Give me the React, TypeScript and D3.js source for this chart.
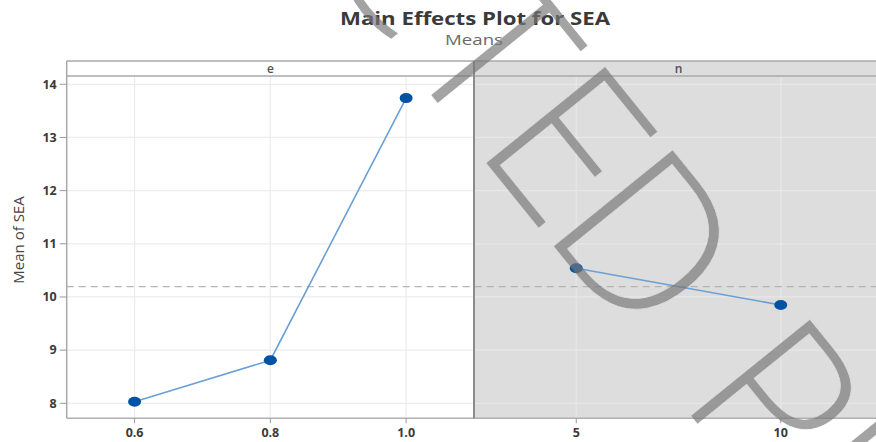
import React from "react";
import * as d3 from "d3";

const eLevels = ["0.6", "0.8", "1.0"];
const eMeans = [8.03, 8.81, 13.74];
const nLevels = ["5", "10"];
const nMeans = [10.54, 9.85];
const yTicks = [8, 9, 10, 11, 12, 13, 14];
const panelNames = ["e", "n"];
const title = "Main Effects Plot for SEA";
const subtitle = "Means";
const yLabel = "Mean of SEA";
const watermark = "UNCORRECTED PROOF";

const W = 876;
const H = 442;
const L = 66.7;
const MID = 474;
const R = 883;
const TOP = 61;
const STRIP_B = 76;
const BOT = 418.3;

export default function App() {
  const y = d3.scaleLinear().domain([7.718, 14.156]).range([BOT, STRIP_B]);
  const xe = d3.scalePoint<string>().domain(eLevels).range([L, MID]).padding(0.5);
  const xn = d3.scalePoint<string>().domain(nLevels).range([MID, R]).padding(0.5);
  const overall = (d3.sum(eMeans) / eMeans.length + d3.sum(nMeans) / nMeans.length) / 2;
  const line = d3.line<[number, number]>().x((d) => d[0]).y((d) => d[1]);
  const ePts: [number, number][] = eLevels.map((l, i) => [xe(l)!, y(eMeans[i])]);
  const nPts: [number, number][] = nLevels.map((l, i) => [xn(l)!, y(nMeans[i])]);
  const font = "'Open Sans', 'Noto Sans', 'DejaVu Sans', sans-serif";
  const wmX = [-790, -650, -510, -370, -216, -86, 44, 154, 294, 411, 518, 675, 736, 857, 987, 1152, 1317].join(" ");
  const wmFont = "'Open Sans', 'Liberation Sans', sans-serif";

  return (
    <svg width={W} height={H} style={{ position: "absolute", left: 0, top: 0 }} fontFamily={font}>
      <defs>
        <mask id="wmMask" maskUnits="userSpaceOnUse" maskContentUnits="userSpaceOnUse" x={0} y={0} width={W} height={H}>
          <rect x={0} y={0} width={W} height={H} fill="black" />
          <g transform="rotate(51)">
            <text x={wmX} y={-275} fontSize={215} fontWeight={300} fontFamily={wmFont}
              fill="white" stroke="black" strokeWidth={0.8}>{watermark}</text>
          </g>
        </mask>
      </defs>
      <rect x={0} y={0} width={W} height={H} fill="#ffffff" />
      {/* right panel background */}
      <rect x={MID} y={TOP} width={R - MID} height={BOT - TOP} fill="#dddddd" />
      {/* gridlines left */}
      {yTicks.map((t) => (
        <line key={"gl" + t} x1={L} x2={MID} y1={y(t)} y2={y(t)} stroke="#ececec" strokeWidth={1.2} />
      ))}
      {eLevels.map((l) => (
        <line key={"gv" + l} x1={xe(l)} x2={xe(l)} y1={STRIP_B} y2={BOT} stroke="#ececec" strokeWidth={1.2} />
      ))}
      {/* gridlines right */}
      {yTicks.map((t) => (
        <line key={"gr" + t} x1={MID} x2={R} y1={y(t)} y2={y(t)} stroke="#e7e7e7" strokeWidth={1.2} />
      ))}
      {nLevels.map((l) => (
        <line key={"gvn" + l} x1={xn(l)} x2={xn(l)} y1={STRIP_B} y2={BOT} stroke="#e7e7e7" strokeWidth={1.2} />
      ))}
      {/* mean reference */}
      <line x1={L} x2={W} y1={y(overall)} y2={y(overall)} stroke="#b4b4b4" strokeWidth={1.3} strokeDasharray="7,5" />
      {/* frame */}
      <line x1={L} x2={W} y1={TOP} y2={TOP} stroke="#a8a8a8" strokeWidth={1.5} />
      <line x1={L} x2={W} y1={STRIP_B} y2={STRIP_B} stroke="#a8a8a8" strokeWidth={1.5} />
      <line x1={L} x2={W} y1={BOT} y2={BOT} stroke="#b0b0b0" strokeWidth={1.5} />
      <line x1={L} x2={L} y1={TOP} y2={BOT} stroke="#a8a8a8" strokeWidth={1.5} />
      <line x1={MID} x2={MID} y1={TOP} y2={BOT} stroke="#8c8c8c" strokeWidth={2} />
      {/* strip labels */}
      <text x={(L + MID) / 2} y={73} textAnchor="middle" fontSize={12} fontWeight={600} fill="#505050">{panelNames[0]}</text>
      <text x={(MID + R) / 2} y={73} textAnchor="middle" fontSize={12} fontWeight={600} fill="#505050">{panelNames[1]}</text>
      {/* y axis */}
      {yTicks.map((t) => (
        <g key={"yt" + t}>
          <line x1={L - 7} x2={L} y1={y(t)} y2={y(t)} stroke="#9a9a9a" strokeWidth={1} />
          <text x={L - 10} y={y(t) + 4.3} textAnchor="end" fontSize={12.5} fontWeight="bold" fill="#3a3a3a">{t}</text>
        </g>
      ))}
      {/* x axis */}
      {eLevels.map((l) => (
        <g key={"xe" + l}>
          <line x1={xe(l)} x2={xe(l)} y1={BOT} y2={BOT + 5} stroke="#9a9a9a" />
          <text x={xe(l)} y={437} textAnchor="middle" fontSize={12.5} fontWeight="bold" fill="#3a3a3a">{l}</text>
        </g>
      ))}
      {nLevels.map((l) => (
        <g key={"xn" + l}>
          <line x1={xn(l)} x2={xn(l)} y1={BOT} y2={BOT + 5} stroke="#9a9a9a" />
          <text x={xn(l)} y={437} textAnchor="middle" fontSize={12.5} fontWeight="bold" fill="#3a3a3a">{l}</text>
        </g>
      ))}
      <text transform={`translate(24,240) rotate(-90)`} textAnchor="middle" fontSize={15} fill="#444">{yLabel}</text>
      {/* series */}
      <path d={line(ePts)!} fill="none" stroke="#6b9fd6" strokeWidth={1.6} />
      <path d={line(nPts)!} fill="none" stroke="#6b9fd6" strokeWidth={1.6} />
      {[...ePts, ...nPts].map((p, i) => (
        <ellipse key={"pt" + i} cx={p[0]} cy={p[1]} rx={6.5} ry={5} fill="#0052a3" />
      ))}
      {/* titles */}
      <text x={475} y={25} textAnchor="middle" fontSize={17.5} fontWeight="bold" fill="#3a3a3a"
        textLength={270} lengthAdjust="spacingAndGlyphs">{title}</text>
      <text x={474} y={44.5} textAnchor="middle" fontSize={15} fill="#6a6a6a"
        textLength={58} lengthAdjust="spacingAndGlyphs">{subtitle}</text>
      {/* watermark */}
      <g mask="url(#wmMask)">
        <rect x={0} y={0} width={W} height={H} fill="#787878" fillOpacity={0.68} />
      </g>
    </svg>
  );
}
